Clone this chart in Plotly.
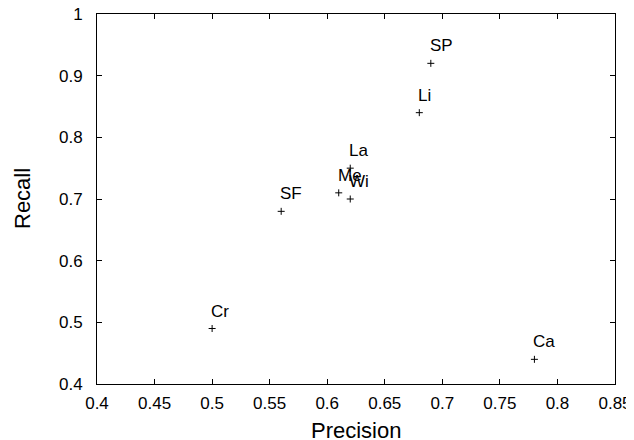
import plotly.graph_objects as go

names = ["SP", "Li", "La", "Me", "Wi", "SF", "Cr", "Ca"]
precision = [0.69, 0.68, 0.62, 0.61, 0.62, 0.56, 0.50, 0.78]
recall = [0.92, 0.84, 0.75, 0.71, 0.70, 0.68, 0.49, 0.44]

x_ticks = [0.4, 0.45, 0.5, 0.55, 0.6, 0.65, 0.7, 0.75, 0.8, 0.85]
x_tick_text = ["0.4", "0.45", "0.5", "0.55", "0.6", "0.65", "0.7", "0.75", "0.8", "0.85"]
y_ticks = [0.4, 0.5, 0.6, 0.7, 0.8, 0.9, 1.0]
y_tick_text = ["0.4", "0.5", "0.6", "0.7", "0.8", "0.9", "1"]

font = "Liberation Sans, Arial, Helvetica, sans-serif"

fig = go.Figure()
fig.add_trace(go.Scatter(
    x=precision, y=recall, mode="markers",
    marker=dict(symbol="cross-thin", size=5, line=dict(width=1, color="#000000"), color="#000000"),
    hoverinfo="text", text=names, showlegend=False,
))

for n, px, ry in zip(names, precision, recall):
    fig.add_annotation(x=px, y=ry, text=n, showarrow=False,
                       xanchor="left", yanchor="bottom", xshift=-3, yshift=6,
                       font=dict(family=font, size=17, color="#000000"))

# axis titles
fig.add_annotation(xref="paper", yref="paper", x=0.5, y=0, text="Precision", showarrow=False,
                   xanchor="center", yanchor="middle", yshift=-46,
                   font=dict(family=font, size=22, color="#000000"))
fig.add_annotation(xref="paper", yref="paper", x=0, y=0.5, text="Recall", showarrow=False,
                   xanchor="center", yanchor="middle", xshift=-75, textangle=-90,
                   font=dict(family=font, size=22, color="#000000"))

axis_common = dict(
    showgrid=False, zeroline=False, showline=True, linecolor="#000000", linewidth=1,
    mirror="allticks", ticks="inside", ticklen=5, tickcolor="#000000",
    tickfont=dict(family=font, size=17, color="#000000"), automargin=False,
    ticklabeloverflow="allow",
)

fig.update_xaxes(range=[0.4, 0.85], tickvals=x_ticks, ticktext=x_tick_text, ticklabelstandoff=4,
                 **axis_common)
fig.update_yaxes(range=[0.4, 1.0], tickvals=y_ticks, ticktext=y_tick_text, ticklabelstandoff=10,
                 **axis_common)

fig.update_layout(
    width=634, height=440,
    margin=dict(l=89, r=27, t=6, b=64),
    plot_bgcolor="#ffffff", paper_bgcolor="#ffffff",
    font=dict(family=font, color="#000000"),
)

fig.write_html("out.html")
